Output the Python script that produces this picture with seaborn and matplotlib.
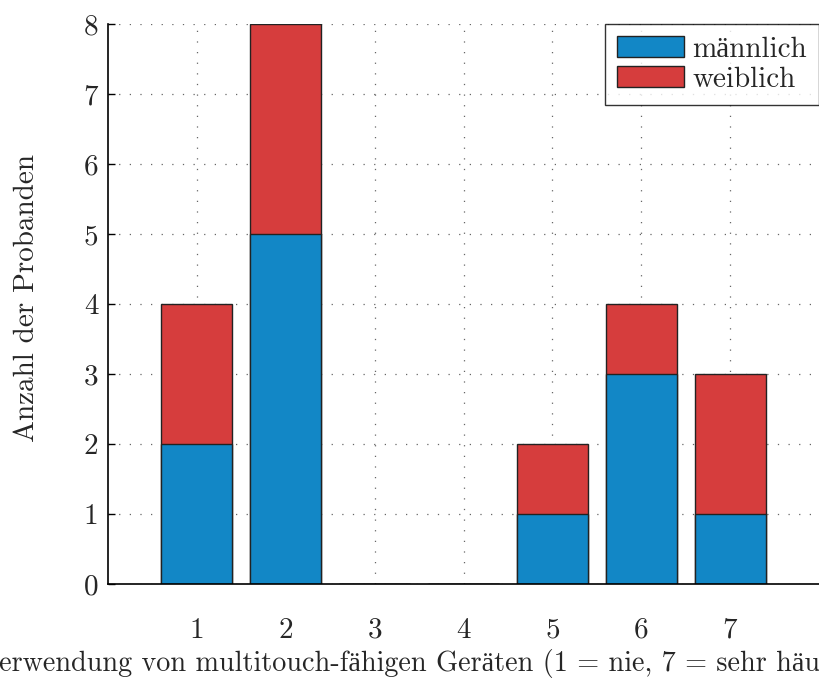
import matplotlib
matplotlib.use("Agg")
import matplotlib.pyplot as plt
import seaborn as sns
import pandas as pd

categories = [1, 2, 3, 4, 5, 6, 7]
maennlich = [2, 5, 0, 0, 1, 3, 1]
weiblich = [2, 3, 0, 0, 1, 1, 2]
y_ticks = [0, 1, 2, 3, 4, 5, 6, 7, 8]

sns.set_theme(style="white")
plt.rcParams['font.family'] = ['cmr10', 'Liberation Serif']
plt.rcParams['axes.unicode_minus'] = False

blue = '#1287C6'
red = '#D63D3D'
FS = 21

df = pd.DataFrame({
    'x': categories,
    'm': maennlich,
    'total': [a + b for a, b in zip(maennlich, weiblich)],
})

fig = plt.figure(figsize=(8.19, 6.81), dpi=100)
ax = fig.add_axes([108/819, 97/681, 711/819, 560/681])
ax.set_axisbelow(True)

sns.barplot(data=df, x='x', y='total', native_scale=True, color=red,
            saturation=1, width=0.8, edgecolor='#222222', linewidth=1.0, ax=ax,
            label='weiblich', zorder=2)
sns.barplot(data=df, x='x', y='m', native_scale=True, color=blue,
            saturation=1, width=0.8, edgecolor='#222222', linewidth=1.0, ax=ax,
            label='männlich', zorder=3)

ax.set_xlim(0, 8)
ax.set_ylim(0, 8)
ax.set_xticks(categories)
ax.set_xticklabels([str(c) for c in categories])
ax.set_yticks(y_ticks)
ax.set_yticklabels([str(t) for t in y_ticks])

ax.grid(True, linestyle=(0, (1, 7.5)), color='#666666', linewidth=0.9)
for s in ['top', 'right']:
    ax.spines[s].set_visible(False)
for s in ['left', 'bottom']:
    ax.spines[s].set_color('black')
    ax.spines[s].set_linewidth(1.2)
ax.spines['bottom'].set_zorder(5)

ax.tick_params(axis='y', direction='in', length=5, width=1, color='black',
               labelsize=FS, pad=7, left=True)
ax.tick_params(axis='x', length=0, labelsize=FS, pad=24)

ax.set_ylabel('Anzahl der Probanden', fontsize=FS)
ax.yaxis.set_label_coords((40 - 108) / 711, 0.51)
ax.set_xlabel('')
fig.text(420/819, 1 - 664/681,
         'Verwendung von multitouch-fähigen Geräten (1 = nie, 7 = sehr häufig)',
         fontsize=20.3, ha='center', va='center')

handles, labels = ax.get_legend_handles_labels()
order = [labels.index('männlich'), labels.index('weiblich')]
leg = ax.legend([handles[i] for i in order], [labels[i] for i in order],
                loc='upper right', bbox_to_anchor=(1.0, 1.0), borderaxespad=0,
                fontsize=FS, frameon=True, fancybox=False, handlelength=2.3,
                handleheight=0.7, handletextpad=0.28, labelspacing=0.12,
                borderpad=0.42)
leg.get_frame().set_edgecolor('black')
leg.get_frame().set_linewidth(1.0)

fig.savefig('out.png', dpi=100)
